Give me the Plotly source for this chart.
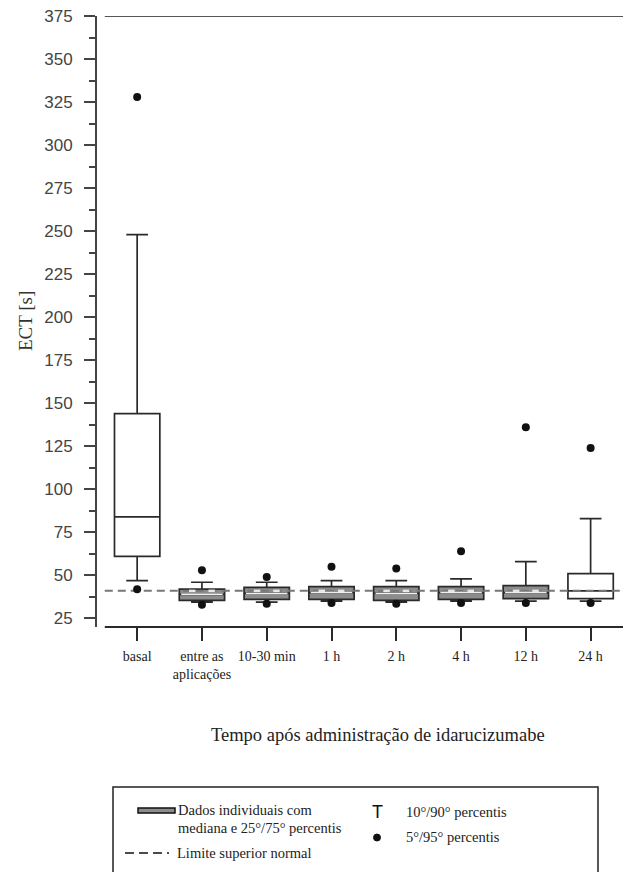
import plotly.graph_objects as go

# ---------------- data ----------------
categories = ["basal", "entre as<br>aplicações", "10-30 min", "1 h", "2 h", "4 h", "12 h", "24 h"]
p5 = [42, 33, 33.5, 34, 33.5, 34, 34, 34]
p10 = [47, 34.5, 34.5, 35, 34.5, 35, 35, 35]
q1 = [61, 35.5, 36, 36, 35.5, 36, 36.5, 36.5]
median = [84, 39, 39.5, 40, 39.5, 40, 40, 41]
q3 = [144, 42, 43, 43.5, 43.5, 43.5, 44, 51]
p90 = [248, 46, 46, 47, 47, 48, 58, 83]
p95 = [328, 53, 49, 55, 54, 64, 136, 124]
normal_limit = 41
yticks = list(range(25, 376, 25))

# ---------------- style ----------------
grey_box = [False, True, True, True, True, True, True, False]
BOX_W = 0.7
GREY = "#8c8c8c"
LINE = "#2a2a2a"
SERIF = "Liberation Serif, Times New Roman, serif"
SANS = "Liberation Sans, Arial, sans-serif"

W, H = 631, 872
ML, MR, MT, MB = 97, 8, 16, 245
PW, PH = W - ML - MR, H - MT - MB


def px(x):
    return (x - ML) / PW


def py(y):
    return (H - MB - y) / PH


xs = list(range(len(categories)))
fig = go.Figure()

# normal limit dashed line (behind boxes)
fig.add_trace(go.Scatter(x=[-0.5, len(categories) - 0.5], y=[normal_limit, normal_limit],
                         mode="lines", line=dict(color="#777777", width=2, dash="8px,5px"),
                         hoverinfo="skip", showlegend=False))

for flag, fill in [(False, "white"), (True, GREY)]:
    idx = [i for i in xs if grey_box[i] == flag]
    fig.add_trace(go.Box(
        x=[xs[i] for i in idx],
        q1=[q1[i] for i in idx], median=[median[i] for i in idx], q3=[q3[i] for i in idx],
        lowerfence=[p10[i] for i in idx], upperfence=[p90[i] for i in idx],
        width=BOX_W, whiskerwidth=0.48, fillcolor=fill,
        line=dict(color=LINE, width=1.7), boxpoints=False, showlegend=False, hoverinfo="skip"))

# white median lines on grey boxes
mx, my = [], []
for i in xs:
    if grey_box[i]:
        mx += [xs[i] - BOX_W / 2 + 0.03, xs[i] + BOX_W / 2 - 0.03, None]
        my += [median[i], median[i], None]
fig.add_trace(go.Scatter(x=mx, y=my, mode="lines", line=dict(color="#f0f0f0", width=1.5),
                         hoverinfo="skip", showlegend=False))

# white dashes of the limit line inside grey boxes
dx, dy = [], []
for i in xs:
    if grey_box[i] and q1[i] < normal_limit < q3[i]:
        dx += [xs[i] - 0.2, xs[i] - 0.1, None, xs[i] + 0.1, xs[i] + 0.2, None]
        dy += [normal_limit, normal_limit, None, normal_limit, normal_limit, None]
fig.add_trace(go.Scatter(x=dx, y=dy, mode="lines", line=dict(color="#e8e8e8", width=2.5),
                         hoverinfo="skip", showlegend=False))

# 5th / 95th percentile dots
fig.add_trace(go.Scatter(x=xs + xs, y=p5 + p95, mode="markers",
                         marker=dict(color="#111111", size=8), hoverinfo="skip", showlegend=False))

shapes = [
    # top line at 375
    dict(type="line", xref="x", yref="y", x0=-0.5, x1=len(categories) - 0.5, y0=375, y1=375,
         line=dict(color="#555555", width=2)),
    # detached x-axis line
    dict(type="line", xref="x", yref="paper", x0=-0.5, x1=len(categories) - 0.5, y0=0, y1=0,
         line=dict(color=LINE, width=2)),
    # legend frame
    dict(type="rect", xref="paper", yref="paper", x0=px(113), x1=px(598), y0=py(787), y1=py(900),
         line=dict(color="#222222", width=1.5), fillcolor="rgba(0,0,0,0)"),
    # legend grey bar
    dict(type="rect", xref="paper", yref="paper", x0=px(138), x1=px(175), y0=py(813), y1=py(808),
         line=dict(color="#111111", width=1.5), fillcolor=GREY),
    # legend dashed line
    dict(type="line", xref="paper", yref="paper", x0=px(125), x1=px(169), y0=py(853), y1=py(853),
         line=dict(color="#111111", width=1.7, dash="9px,5px")),
    # legend dot
    dict(type="circle", xref="paper", yref="paper", x0=px(373.5), x1=px(380.5), y0=py(841), y1=py(834),
         line=dict(color="#111111", width=1), fillcolor="#111111"),
]

LEG = 14.5
annotations = [
    dict(text="ECT [s]", xref="paper", yref="paper", x=px(25), y=py(321), textangle=-90,
         showarrow=False, font=dict(family=SERIF, size=19, color="#333333"),
         xanchor="center", yanchor="middle"),
    dict(text="Tempo após administração de idarucizumabe", xref="paper", yref="paper",
         x=px(378), y=py(735), showarrow=False,
         font=dict(family=SERIF, size=18.5, color="#222222"), xanchor="center", yanchor="middle"),
    dict(text="Dados individuais com", xref="paper", yref="paper", x=px(176), y=py(810),
         showarrow=False, font=dict(family=SERIF, size=LEG, color="#222222"),
         xanchor="left", yanchor="middle"),
    dict(text="mediana e 25°/75° percentis", xref="paper", yref="paper", x=px(176), y=py(828),
         showarrow=False, font=dict(family=SERIF, size=LEG, color="#222222"),
         xanchor="left", yanchor="middle"),
    dict(text="Limite superior normal", xref="paper", yref="paper", x=px(175), y=py(853),
         showarrow=False, font=dict(family=SERIF, size=LEG, color="#222222"),
         xanchor="left", yanchor="middle"),
    dict(text="T", xref="paper", yref="paper", x=px(377), y=py(812),
         showarrow=False, font=dict(family=SANS, size=18, color="#111111"),
         xanchor="center", yanchor="middle"),
    dict(text="10°/90° percentis", xref="paper", yref="paper", x=px(404), y=py(812),
         showarrow=False, font=dict(family=SERIF, size=LEG, color="#222222"),
         xanchor="left", yanchor="middle"),
    dict(text="5°/95° percentis", xref="paper", yref="paper", x=px(404), y=py(837),
         showarrow=False, font=dict(family=SERIF, size=LEG, color="#222222"),
         xanchor="left", yanchor="middle"),
]

fig.update_layout(
    width=W, height=H, margin=dict(l=ML, r=MR, t=MT, b=MB, pad=0),
    paper_bgcolor="white", plot_bgcolor="white", showlegend=False,
    shapes=shapes, annotations=annotations,
    xaxis=dict(range=[-0.62, len(categories) - 0.5], tickvals=xs, ticktext=categories,
               showline=False, showgrid=False, zeroline=False, ticks="outside", ticklen=13,
               tickwidth=1.7, tickcolor=LINE, tickfont=dict(family=SERIF, size=14, color="#222222"),
               ticklabelstandoff=3),
    yaxis=dict(range=[20, 375], tickvals=yticks, showline=True, linecolor="#444444", linewidth=2,
               showgrid=False, zeroline=False, ticks="outside", ticklen=11, tickwidth=1.7,
               tickcolor="#444444", tickfont=dict(family=SANS, size=17, color="#444444"),
               ticklabelstandoff=8,
               minor=dict(tickvals=[v + 12.5 for v in [0] + yticks], ticks="outside", ticklen=6,
                          tickwidth=1.5, tickcolor="#444444", showgrid=False)),
)

fig.write_html("out.html")
